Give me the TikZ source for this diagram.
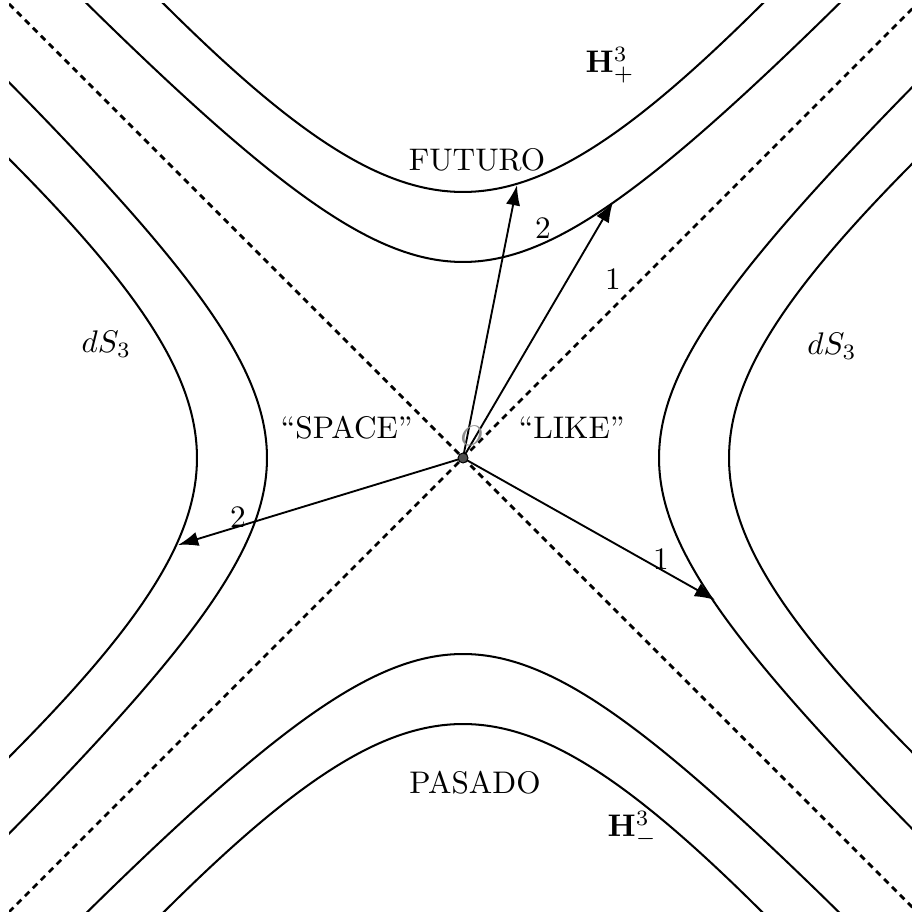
\documentclass[tikz,border=0pt]{standalone}
\usetikzlibrary{arrows.meta}
\begin{document}
\begin{tikzpicture}[x=0.32pt,y=0.32pt,
  curve/.style={line width=0.65pt},
  asym/.style={line width=0.9pt, dash pattern=on 2pt off 1.6pt},
  vec/.style={line width=0.6pt,-{Latex[length=6.5pt,width=4.6pt]}},
  lbl/.style={font=\fontsize{10}{12}\selectfont, inner sep=0pt}]
\useasboundingbox (0,0) rectangle (911,917);
\begin{scope}
\clip (9,5) rectangle (917,913);
\begin{scope}[shift={(463,459)}]
  \draw[asym] (-454,-454) -- (454,454);
  \draw[asym] (-454,454) -- (454,-454);
  \foreach \a/\k in {196/1.09, 266/1.23} {
    \draw[curve] plot[domain=-1.7:1.7, samples=90, smooth, variable=\t] ({\a/\k*sinh(\t)}, {\a*cosh(\t)});
    \draw[curve] plot[domain=-1.7:1.7, samples=90, smooth, variable=\t] ({\a/\k*sinh(\t)}, {-\a*cosh(\t)});
    \draw[curve] plot[domain=-1.7:1.7, samples=90, smooth, variable=\t] ({\a*cosh(\t)}, {\a/\k*sinh(\t)});
    \draw[curve] plot[domain=-1.7:1.7, samples=90, smooth, variable=\t] ({-\a*cosh(\t)}, {\a/\k*sinh(\t)});
  }
\end{scope}
\end{scope}
\coordinate (O) at (463,459);
\coordinate (t1) at (517,732);
\coordinate (t2) at (613,715);
\coordinate (t3) at (178,372);
\coordinate (t4) at (715,317);
\draw[vec] (O) -- (t1);
\draw[vec] (O) -- (t2);
\draw[vec] (O) -- (t3);
\draw[vec] (O) -- (t4);
\filldraw[fill=black!70, draw=black, line width=0.3pt] (O) circle (5);
\node[lbl, text=black!45, font=\fontsize{9}{11}\selectfont] (olab) at (472,481) {$O$};
\node[lbl] (n2a) at (543,689) {2};
\node[lbl] (n1a) at (613,638) {1};
\node[lbl] (n2b) at (238,400) {2};
\node[lbl] (n1b) at (661,358) {1};
\node[lbl] (fut) at (477,757) {FUTURO};
\node[lbl] (pas) at (475,134) {PASADO};
\node[lbl, anchor=base west] (hp) at (585,844) {$\mathbf{H}^3_+$};
\node[lbl, anchor=base west] (hm) at (607,80) {$\mathbf{H}^3_-$};
\node[lbl, anchor=base west] (dsl) at (81,564) {$dS_3$};
\node[lbl, anchor=base] (dsr) at (832,562) {$dS_3$};
\node[lbl, anchor=base west] (sp) at (280,478) {“SPACE”};
\node[lbl, anchor=base west] (lk) at (518,478) {“LIKE”};
\end{tikzpicture}
\end{document}
